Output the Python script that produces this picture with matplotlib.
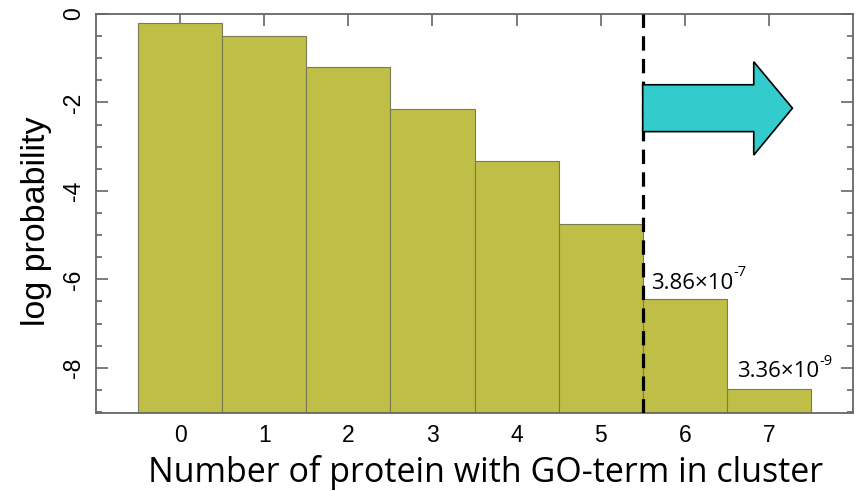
import matplotlib
matplotlib.use("Agg")
import matplotlib.pyplot as plt
from matplotlib.patches import Polygon
from matplotlib.ticker import MultipleLocator

plt.rcParams["axes.unicode_minus"] = False

# data
categories = [0, 1, 2, 3, 4, 5, 6, 7]
log_prob = [-0.20, -0.49, -1.19, -2.15, -3.32, -4.75, -6.44, -8.48]
labels = {6: ("3.86\u00d710", "-7"), 7: ("3.36\u00d710", "-9")}
y_bottom = -9.03
cutoff = 5.5

fig = plt.figure(figsize=(8.59, 4.91), dpi=100)
ax = fig.add_axes([96/859, 77.7/491, 757/859, 399.3/491])

ax.bar(categories, [v - y_bottom for v in log_prob], bottom=y_bottom, width=1.0,
       color="#BFBE47", edgecolor="#7a7a55", linewidth=0.8, zorder=2)

ax.set_xlim(-1.0, 8.0)
ax.set_ylim(y_bottom, 0)
ax.set_axisbelow(True)

ax.set_xticks(categories)
ax.yaxis.set_major_locator(MultipleLocator(2))
ax.yaxis.set_minor_locator(MultipleLocator(0.5))
tick_col = "#666666"
ax.tick_params(axis="both", which="major", direction="in", length=8.5, width=1.2,
               color=tick_col, labelsize=16.5, top=True, right=True, pad=8)
ax.tick_params(axis="y", which="minor", direction="in", length=4.5, width=1.2,
               color=tick_col, right=True)
ax.tick_params(axis="x", pad=8)
for lab in ax.get_yticklabels():
    lab.set_rotation(90)
    lab.set_va("center")
for lab in ax.get_xticklabels() + ax.get_yticklabels():
    lab.set_family("Liberation Sans")
for s in ax.spines.values():
    s.set_color(tick_col)
    s.set_linewidth(1.3)

ax.set_ylabel("log probability", family="Liberation Sans", fontsize=24.5)
ax.yaxis.set_label_coords(-0.058, 0.48)

# x label placed by baseline
fig.text(486/859, (491-482.5)/491, "Number of protein with GO-term in cluster",
         family="Open Sans", fontsize=24.5, ha="center", va="baseline")

# dashed cutoff line
ax.axvline(cutoff, color="black", lw=2.3, linestyle=(0, (4.5, 2.6)), zorder=4)

# arrow
shaft_top, shaft_bot = -1.60, -2.66
head_top, head_bot = -1.08, -3.19
head_x, tip_x, tip_y = 6.82, 7.28, -2.13
arrow = Polygon([(cutoff, shaft_top), (head_x, shaft_top), (head_x, head_top),
                 (tip_x, tip_y), (head_x, head_bot), (head_x, shaft_bot),
                 (cutoff, shaft_bot)], closed=True, facecolor="#33CCCC",
                edgecolor="black", linewidth=1.2, zorder=5)
ax.add_patch(arrow)

# value labels
label_pos = {6: (5.60, -6.22), 7: (6.62, -8.22)}
for k, (base, exp) in labels.items():
    x, y = label_pos[k]
    t = ax.text(x, y, base, family="Open Sans", fontsize=16, ha="left",
                va="baseline", zorder=6)
    ax.annotate(exp, xy=(1, 0.65), xycoords=t, family="Open Sans", fontsize=10.5,
                ha="left", va="bottom", zorder=6)

fig.savefig("out.png", dpi=100)
